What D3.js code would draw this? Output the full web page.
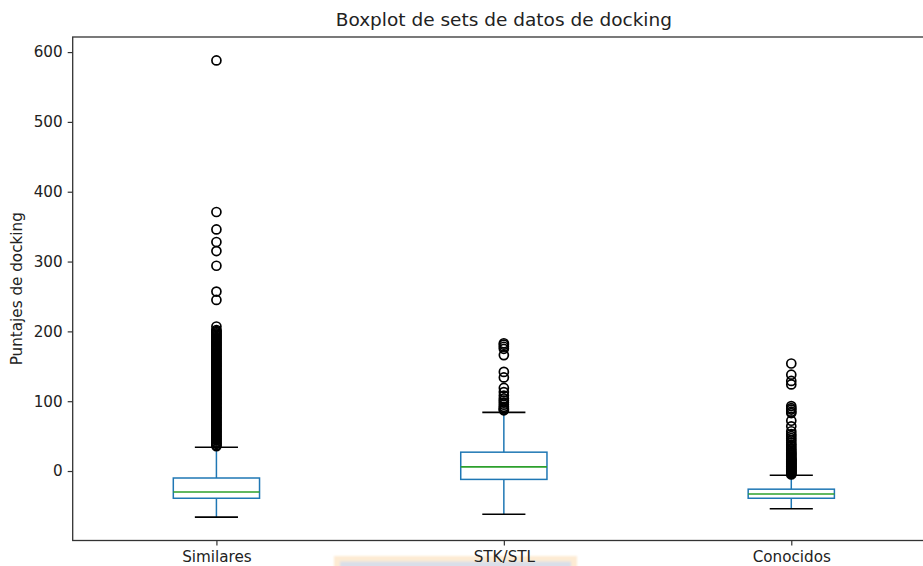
<!DOCTYPE html>
<html>
<head>
<meta charset="utf-8">
<script src="https://cdn.jsdelivr.net/npm/d3@7"></script>
<style>
  html, body { margin: 0; padding: 0; background: #fff; overflow: hidden; }
  svg { display: block; font-family: "DejaVu Sans", sans-serif; }
</style>
</head>
<body>
<svg id="chart" width="923" height="566"></svg>
<script>
// Docking score distributions per data set
const categories = ["Similares", "STK/STL", "Conocidos"];
const q1 = [-39, -12, -39];
const medians = [-30, 6, -33];
const q3 = [-10, 27, -26];
const whiskerLow = [-66, -62, -54];
const whiskerHigh = [34, 84, -6];

const fliersSimilares = [
  588, 371, 346, 328, 315, 294, 257, 245, 207,
  202, 200.5, 199, 197, 195.5, 194, 192, 190.5, 189, 187, 185.5, 184, 182, 180.5,
  179, 177, 175.5, 174, 172, 170.5, 169, 167, 165.5, 164, 162, 160.5, 159, 157,
  155.5, 154, 152, 150.5, 149, 147, 145.5, 144, 142, 140.5, 139, 137, 135.5, 134,
  132, 130.5, 129, 127, 125.5, 124, 122, 120.5, 119, 117, 115.5, 114, 112, 110.5,
  109, 107, 105.5, 104, 102, 100.5, 99, 97, 95.5, 94, 92, 90.5, 89, 87, 85.5, 84,
  82, 80.5, 79, 77, 75.5, 74, 72, 70.5, 69, 67, 65.5, 64, 62, 60.5, 59, 57, 55.5,
  54, 52, 50.5, 49, 47, 45.5, 44, 42, 40.5, 39, 37, 35.5
];
const fliersSTK = [183, 181, 178, 175, 166, 142, 134, 119, 113, 108, 104, 101, 98, 95, 92, 90, 88, 87];
const fliersConocidos = [
  154, 138, 129, 124, 93, 90, 88, 85, 83, 72, 64, 57, 53, 50, 47, 44, 41, 38, 36,
  33, 31, 29, 27, 25.5, 24, 22.5, 21, 19.5, 18, 17, 16, 15, 14, 13, 12, 11, 10, 9,
  8, 7, 6, 5, 4, 3, 2, 1, 0, -1, -2, -3, -4, -5
];
const fliers = [fliersSimilares, fliersSTK, fliersConocidos];
const yTicks = [0, 100, 200, 300, 400, 500, 600];

const svg = d3.select("#chart");
const plotLeft = 72.7, plotRight = 935, plotTop = 37, plotBottom = 540.5;

const x = d3.scalePoint().domain(categories).range([plotLeft, plotRight]).padding(0.5);
const unit = x.step();
const y = d3.scaleLinear().domain([-99.5, 621.6]).range([plotBottom, plotTop]);

// faint highlight band below the middle label
const defs = svg.append("defs");
defs.append("filter").attr("id", "soft")
  .attr("x", "-10%").attr("y", "-50%").attr("width", "120%").attr("height", "200%")
  .append("feGaussianBlur").attr("stdDeviation", 1.2);
const band = svg.append("g").attr("filter", "url(#soft)");
band.append("rect").attr("x", 334).attr("y", 556).attr("width", 243).attr("height", 14)
  .attr("fill", "#fdebd3");
band.append("rect").attr("x", 340).attr("y", 561.5).attr("width", 231).attr("height", 10)
  .attr("fill", "#d9dfe9");

const boxW = 0.3 * unit, capW = 0.15 * unit;
const g = svg.append("g");

categories.forEach((c, i) => {
  const cx = x(c);
  // whiskers
  g.append("line").attr("x1", cx).attr("x2", cx).attr("y1", y(q1[i])).attr("y2", y(whiskerLow[i]))
    .attr("stroke", "#1f77b4").attr("stroke-width", 1.5);
  g.append("line").attr("x1", cx).attr("x2", cx).attr("y1", y(q3[i])).attr("y2", y(whiskerHigh[i]))
    .attr("stroke", "#1f77b4").attr("stroke-width", 1.5);
  // caps
  [whiskerLow[i], whiskerHigh[i]].forEach(v => {
    g.append("line").attr("x1", cx - capW / 2).attr("x2", cx + capW / 2).attr("y1", y(v)).attr("y2", y(v))
      .attr("stroke", "#000").attr("stroke-width", 1.6);
  });
  // box
  g.append("rect").attr("x", cx - boxW / 2).attr("y", y(q3[i])).attr("width", boxW)
    .attr("height", y(q1[i]) - y(q3[i]))
    .attr("fill", "none").attr("stroke", "#1f77b4").attr("stroke-width", 1.5);
  // median
  g.append("line").attr("x1", cx - boxW / 2).attr("x2", cx + boxW / 2).attr("y1", y(medians[i])).attr("y2", y(medians[i]))
    .attr("stroke", "#2ca02c").attr("stroke-width", 1.6);
  // outliers
  g.selectAll(null).data(fliers[i]).enter().append("circle")
    .attr("cx", cx).attr("cy", d => y(d)).attr("r", 4.5)
    .attr("fill", "none").attr("stroke", "#000").attr("stroke-width", 1.7);
});

// frame
svg.append("rect").attr("x", plotLeft).attr("y", plotTop).attr("width", plotRight - plotLeft).attr("height", plotBottom - plotTop)
  .attr("fill", "none").attr("stroke", "#333").attr("stroke-width", 1.3);

// y axis
const yAxis = svg.append("g").attr("transform", `translate(${plotLeft},0)`)
  .call(d3.axisLeft(y).tickValues(yTicks).tickSize(5).tickPadding(5));
yAxis.select(".domain").remove();
yAxis.selectAll("line").attr("stroke", "#333").attr("stroke-width", 1.2);
yAxis.selectAll("text").attr("font-size", 15.2).attr("fill", "#222")
  .attr("font-family", "DejaVu Sans");

// x axis
const xAxis = svg.append("g").attr("transform", `translate(0,${plotBottom})`)
  .call(d3.axisBottom(x).tickSize(5).tickPadding(6));
xAxis.select(".domain").remove();
xAxis.selectAll("line").attr("stroke", "#333").attr("stroke-width", 1.2);
xAxis.selectAll("text").attr("font-size", 15.2).attr("fill", "#222")
  .attr("font-family", "DejaVu Sans");

// title and y label
svg.append("text").attr("x", (plotLeft + plotRight) / 2).attr("y", 26).attr("text-anchor", "middle")
  .attr("font-size", 18.5).attr("fill", "#222").text("Boxplot de sets de datos de docking");
svg.append("text").attr("transform", `translate(22,${(plotTop + plotBottom) / 2}) rotate(-90)`)
  .attr("text-anchor", "middle").attr("font-size", 15.2).attr("fill", "#222")
  .text("Puntajes de docking");
</script>
</body>
</html>
